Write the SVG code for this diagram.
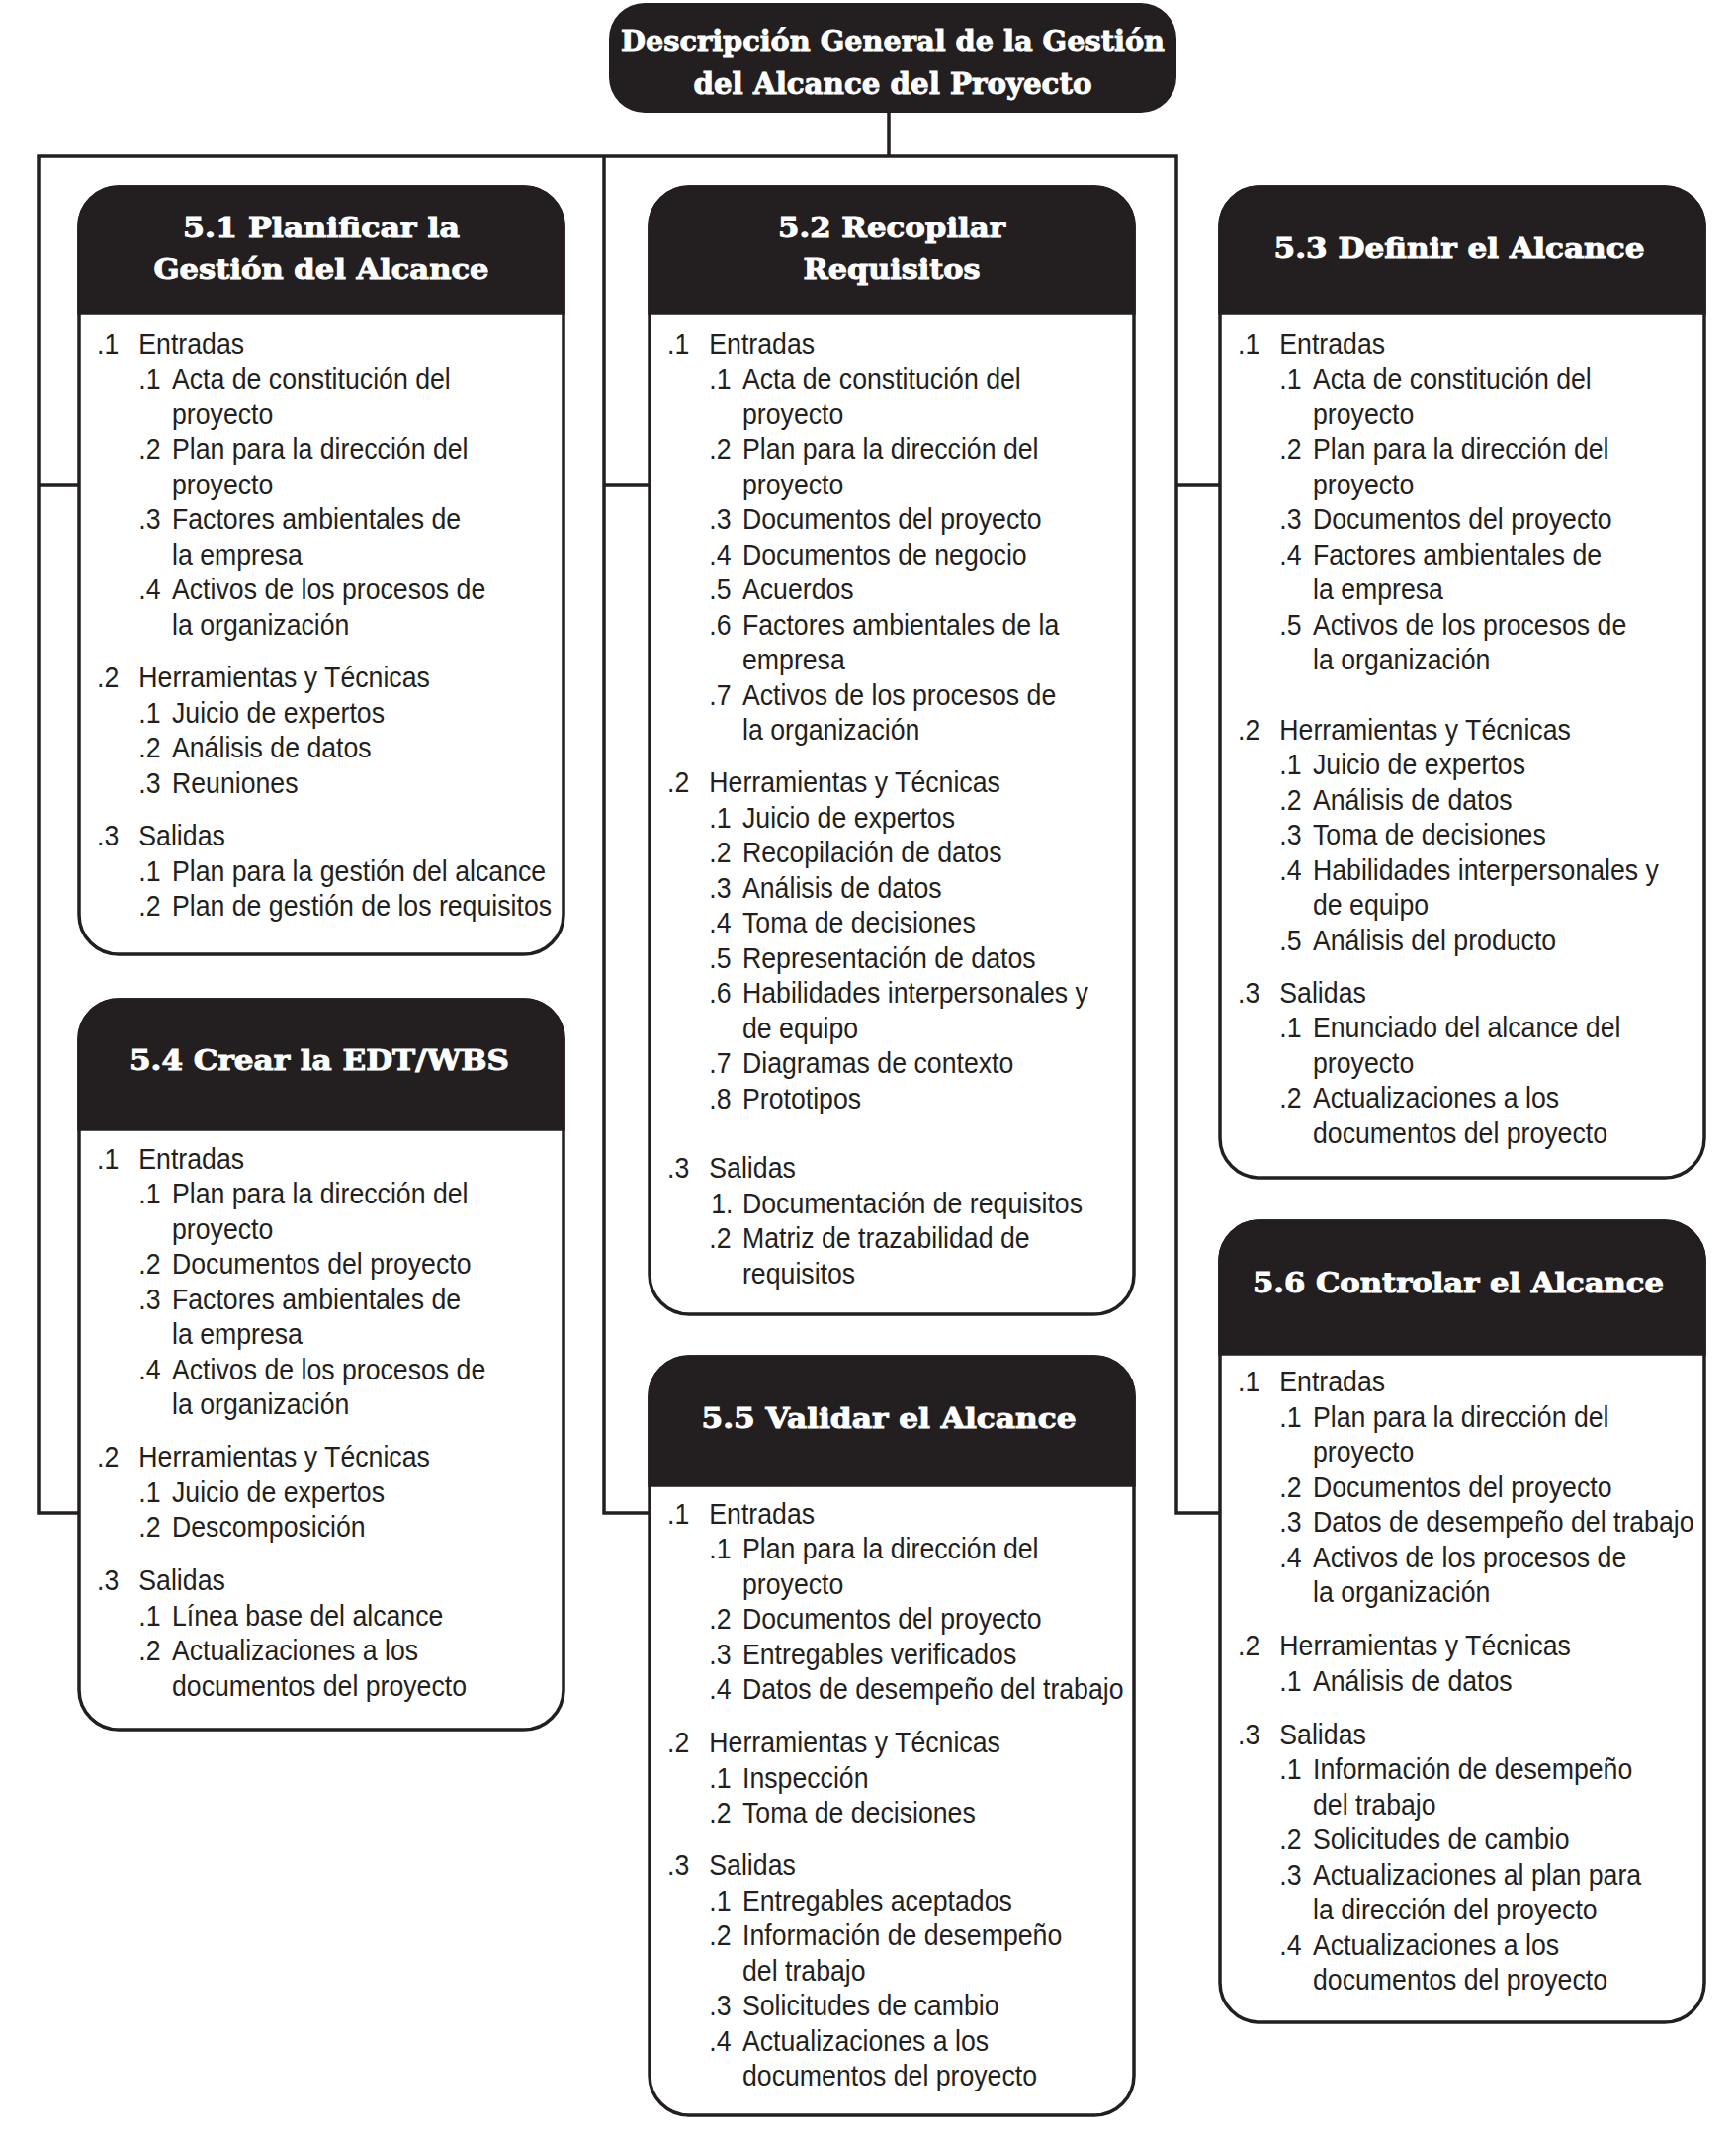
<svg xmlns="http://www.w3.org/2000/svg" width="1756" height="2159" viewBox="0 0 1756 2159">
<style>
.bg{fill:#fff}
.conn{fill:none;stroke:#231f20;stroke-width:3.5;stroke-linejoin:miter}
.box{fill:#fff;stroke:#231f20;stroke-width:3.5}
.hdr{fill:#231f20;stroke:#231f20;stroke-width:3.5}
.ttl{font-family:"DejaVu Serif","Liberation Serif",serif;font-weight:bold;font-size:30px;fill:#fff;stroke:#fff;stroke-width:1;text-anchor:middle}
.h{font-family:"DejaVu Serif","Liberation Serif",serif;font-weight:bold;font-size:28px;fill:#fff;stroke:#fff;stroke-width:1;text-anchor:middle}
.b{font-family:"Liberation Sans",Arial,sans-serif;font-size:29px;fill:#231f20}
</style>
<rect class="bg" x="0" y="0" width="1756" height="2159"/>
<g id="connectors">
<path class="conn" d="M899,114 V158"/>
<path class="conn" d="M80,1530 H39 V158 H1190 V1530 H1234"/>
<path class="conn" d="M611,158 V1530 H657"/>
<path class="conn" d="M39,490 H80 M611,490 H657 M1190,490 H1234"/>
</g>
<g id="n-title">
<rect x="616" y="3" width="574" height="111" rx="36" fill="#231f20"/>
<text class="ttl" x="903" y="52" textLength="550" lengthAdjust="spacingAndGlyphs">Descripción General de la Gestión</text>
<text class="ttl" x="903" y="95" textLength="403" lengthAdjust="spacingAndGlyphs">del Alcance del Proyecto</text>
</g>
<g id="n51">
<rect class="box" x="80" y="189" width="490" height="776" rx="40"/>
<path class="hdr" d="M80,317 V229 A40,40 0 0 1 120,189 H530 A40,40 0 0 1 570,229 V317 Z"/>
<text class="h" x="325" y="240" textLength="280" lengthAdjust="spacingAndGlyphs">5.1 Planificar la</text>
<text class="h" x="325" y="282" textLength="339" lengthAdjust="spacingAndGlyphs">Gestión del Alcance</text>
<g class="b" transform="translate(98 0) scale(0.92 1)">
<text y="358"><tspan x="0">.1</tspan><tspan x="46">Entradas</tspan></text>
<text y="393.5"><tspan x="46">.1</tspan><tspan x="82.6">Acta de constitución del</tspan></text>
<text y="429" x="82.6">proyecto</text>
<text y="464.5"><tspan x="46">.2</tspan><tspan x="82.6">Plan para la dirección del</tspan></text>
<text y="500" x="82.6">proyecto</text>
<text y="535.5"><tspan x="46">.3</tspan><tspan x="82.6">Factores ambientales de</tspan></text>
<text y="571" x="82.6">la empresa</text>
<text y="606.5"><tspan x="46">.4</tspan><tspan x="82.6">Activos de los procesos de</tspan></text>
<text y="642" x="82.6">la organización</text>
<text y="695.5"><tspan x="0">.2</tspan><tspan x="46">Herramientas y Técnicas</tspan></text>
<text y="731"><tspan x="46">.1</tspan><tspan x="82.6">Juicio de expertos</tspan></text>
<text y="766.5"><tspan x="46">.2</tspan><tspan x="82.6">Análisis de datos</tspan></text>
<text y="802"><tspan x="46">.3</tspan><tspan x="82.6">Reuniones</tspan></text>
<text y="855.5"><tspan x="0">.3</tspan><tspan x="46">Salidas</tspan></text>
<text y="891"><tspan x="46">.1</tspan><tspan x="82.6">Plan para la gestión del alcance</tspan></text>
<text y="926.5"><tspan x="46">.2</tspan><tspan x="82.6">Plan de gestión de los requisitos</tspan></text>
</g>
</g>
<g id="n52">
<rect class="box" x="657" y="189" width="490" height="1140" rx="40"/>
<path class="hdr" d="M657,317 V229 A40,40 0 0 1 697,189 H1107 A40,40 0 0 1 1147,229 V317 Z"/>
<text class="h" x="902" y="240" textLength="230" lengthAdjust="spacingAndGlyphs">5.2 Recopilar</text>
<text class="h" x="902" y="282" textLength="179" lengthAdjust="spacingAndGlyphs">Requisitos</text>
<g class="b" transform="translate(675 0) scale(0.92 1)">
<text y="358"><tspan x="0">.1</tspan><tspan x="46">Entradas</tspan></text>
<text y="393.5"><tspan x="46">.1</tspan><tspan x="82.6">Acta de constitución del</tspan></text>
<text y="429" x="82.6">proyecto</text>
<text y="464.5"><tspan x="46">.2</tspan><tspan x="82.6">Plan para la dirección del</tspan></text>
<text y="500" x="82.6">proyecto</text>
<text y="535.5"><tspan x="46">.3</tspan><tspan x="82.6">Documentos del proyecto</tspan></text>
<text y="571"><tspan x="46">.4</tspan><tspan x="82.6">Documentos de negocio</tspan></text>
<text y="606.5"><tspan x="46">.5</tspan><tspan x="82.6">Acuerdos</tspan></text>
<text y="642"><tspan x="46">.6</tspan><tspan x="82.6">Factores ambientales de la</tspan></text>
<text y="677.5" x="82.6">empresa</text>
<text y="713"><tspan x="46">.7</tspan><tspan x="82.6">Activos de los procesos de</tspan></text>
<text y="748.5" x="82.6">la organización</text>
<text y="801.5"><tspan x="0">.2</tspan><tspan x="46">Herramientas y Técnicas</tspan></text>
<text y="837"><tspan x="46">.1</tspan><tspan x="82.6">Juicio de expertos</tspan></text>
<text y="872.5"><tspan x="46">.2</tspan><tspan x="82.6">Recopilación de datos</tspan></text>
<text y="908"><tspan x="46">.3</tspan><tspan x="82.6">Análisis de datos</tspan></text>
<text y="943.5"><tspan x="46">.4</tspan><tspan x="82.6">Toma de decisiones</tspan></text>
<text y="979"><tspan x="46">.5</tspan><tspan x="82.6">Representación de datos</tspan></text>
<text y="1014.5"><tspan x="46">.6</tspan><tspan x="82.6">Habilidades interpersonales y</tspan></text>
<text y="1050" x="82.6">de equipo</text>
<text y="1085.5"><tspan x="46">.7</tspan><tspan x="82.6">Diagramas de contexto</tspan></text>
<text y="1121"><tspan x="46">.8</tspan><tspan x="82.6">Prototipos</tspan></text>
<text y="1191.5"><tspan x="0">.3</tspan><tspan x="46">Salidas</tspan></text>
<text y="1227"><tspan x="48">1.</tspan><tspan x="82.6">Documentación de requisitos</tspan></text>
<text y="1262.5"><tspan x="46">.2</tspan><tspan x="82.6">Matriz de trazabilidad de</tspan></text>
<text y="1298" x="82.6">requisitos</text>
</g>
</g>
<g id="n53">
<rect class="box" x="1234" y="189" width="490" height="1002" rx="40"/>
<path class="hdr" d="M1234,317 V229 A40,40 0 0 1 1274,189 H1684 A40,40 0 0 1 1724,229 V317 Z"/>
<text class="h" x="1476" y="261" textLength="375" lengthAdjust="spacingAndGlyphs">5.3 Definir el Alcance</text>
<g class="b" transform="translate(1252 0) scale(0.92 1)">
<text y="358"><tspan x="0">.1</tspan><tspan x="46">Entradas</tspan></text>
<text y="393.5"><tspan x="46">.1</tspan><tspan x="82.6">Acta de constitución del</tspan></text>
<text y="429" x="82.6">proyecto</text>
<text y="464.5"><tspan x="46">.2</tspan><tspan x="82.6">Plan para la dirección del</tspan></text>
<text y="500" x="82.6">proyecto</text>
<text y="535.5"><tspan x="46">.3</tspan><tspan x="82.6">Documentos del proyecto</tspan></text>
<text y="571"><tspan x="46">.4</tspan><tspan x="82.6">Factores ambientales de</tspan></text>
<text y="606.5" x="82.6">la empresa</text>
<text y="642"><tspan x="46">.5</tspan><tspan x="82.6">Activos de los procesos de</tspan></text>
<text y="677.5" x="82.6">la organización</text>
<text y="748"><tspan x="0">.2</tspan><tspan x="46">Herramientas y Técnicas</tspan></text>
<text y="783.5"><tspan x="46">.1</tspan><tspan x="82.6">Juicio de expertos</tspan></text>
<text y="819"><tspan x="46">.2</tspan><tspan x="82.6">Análisis de datos</tspan></text>
<text y="854.5"><tspan x="46">.3</tspan><tspan x="82.6">Toma de decisiones</tspan></text>
<text y="890"><tspan x="46">.4</tspan><tspan x="82.6">Habilidades interpersonales y</tspan></text>
<text y="925.5" x="82.6">de equipo</text>
<text y="961"><tspan x="46">.5</tspan><tspan x="82.6">Análisis del producto</tspan></text>
<text y="1014"><tspan x="0">.3</tspan><tspan x="46">Salidas</tspan></text>
<text y="1049.5"><tspan x="46">.1</tspan><tspan x="82.6">Enunciado del alcance del</tspan></text>
<text y="1085" x="82.6">proyecto</text>
<text y="1120.5"><tspan x="46">.2</tspan><tspan x="82.6">Actualizaciones a los</tspan></text>
<text y="1156" x="82.6">documentos del proyecto</text>
</g>
</g>
<g id="n54">
<rect class="box" x="80" y="1011" width="490" height="738" rx="40"/>
<path class="hdr" d="M80,1142 V1051 A40,40 0 0 1 120,1011 H530 A40,40 0 0 1 570,1051 V1142 Z"/>
<text class="h" x="323" y="1082" textLength="384" lengthAdjust="spacingAndGlyphs">5.4 Crear la EDT/WBS</text>
<g class="b" transform="translate(98 0) scale(0.92 1)">
<text y="1182"><tspan x="0">.1</tspan><tspan x="46">Entradas</tspan></text>
<text y="1217.5"><tspan x="46">.1</tspan><tspan x="82.6">Plan para la dirección del</tspan></text>
<text y="1253" x="82.6">proyecto</text>
<text y="1288.5"><tspan x="46">.2</tspan><tspan x="82.6">Documentos del proyecto</tspan></text>
<text y="1324"><tspan x="46">.3</tspan><tspan x="82.6">Factores ambientales de</tspan></text>
<text y="1359.5" x="82.6">la empresa</text>
<text y="1395"><tspan x="46">.4</tspan><tspan x="82.6">Activos de los procesos de</tspan></text>
<text y="1430.5" x="82.6">la organización</text>
<text y="1483.5"><tspan x="0">.2</tspan><tspan x="46">Herramientas y Técnicas</tspan></text>
<text y="1519"><tspan x="46">.1</tspan><tspan x="82.6">Juicio de expertos</tspan></text>
<text y="1554.5"><tspan x="46">.2</tspan><tspan x="82.6">Descomposición</tspan></text>
<text y="1608.5"><tspan x="0">.3</tspan><tspan x="46">Salidas</tspan></text>
<text y="1644"><tspan x="46">.1</tspan><tspan x="82.6">Línea base del alcance</tspan></text>
<text y="1679.5"><tspan x="46">.2</tspan><tspan x="82.6">Actualizaciones a los</tspan></text>
<text y="1715" x="82.6">documentos del proyecto</text>
</g>
</g>
<g id="n55">
<rect class="box" x="657" y="1372" width="490" height="767" rx="40"/>
<path class="hdr" d="M657,1502 V1412 A40,40 0 0 1 697,1372 H1107 A40,40 0 0 1 1147,1412 V1502 Z"/>
<text class="h" x="899" y="1444" textLength="379" lengthAdjust="spacingAndGlyphs">5.5 Validar el Alcance</text>
<g class="b" transform="translate(675 0) scale(0.92 1)">
<text y="1541"><tspan x="0">.1</tspan><tspan x="46">Entradas</tspan></text>
<text y="1576.5"><tspan x="46">.1</tspan><tspan x="82.6">Plan para la dirección del</tspan></text>
<text y="1612" x="82.6">proyecto</text>
<text y="1647.5"><tspan x="46">.2</tspan><tspan x="82.6">Documentos del proyecto</tspan></text>
<text y="1683"><tspan x="46">.3</tspan><tspan x="82.6">Entregables verificados</tspan></text>
<text y="1718.5"><tspan x="46">.4</tspan><tspan x="82.6">Datos de desempeño del trabajo</tspan></text>
<text y="1772.5"><tspan x="0">.2</tspan><tspan x="46">Herramientas y Técnicas</tspan></text>
<text y="1808"><tspan x="46">.1</tspan><tspan x="82.6">Inspección</tspan></text>
<text y="1843.5"><tspan x="46">.2</tspan><tspan x="82.6">Toma de decisiones</tspan></text>
<text y="1896.5"><tspan x="0">.3</tspan><tspan x="46">Salidas</tspan></text>
<text y="1932"><tspan x="46">.1</tspan><tspan x="82.6">Entregables aceptados</tspan></text>
<text y="1967.5"><tspan x="46">.2</tspan><tspan x="82.6">Información de desempeño</tspan></text>
<text y="2003" x="82.6">del trabajo</text>
<text y="2038.5"><tspan x="46">.3</tspan><tspan x="82.6">Solicitudes de cambio</tspan></text>
<text y="2074"><tspan x="46">.4</tspan><tspan x="82.6">Actualizaciones a los</tspan></text>
<text y="2109.5" x="82.6">documentos del proyecto</text>
</g>
</g>
<g id="n56">
<rect class="box" x="1234" y="1235" width="490" height="810" rx="40"/>
<path class="hdr" d="M1234,1369 V1275 A40,40 0 0 1 1274,1235 H1684 A40,40 0 0 1 1724,1275 V1369 Z"/>
<text class="h" x="1475" y="1307" textLength="416" lengthAdjust="spacingAndGlyphs">5.6 Controlar el Alcance</text>
<g class="b" transform="translate(1252 0) scale(0.92 1)">
<text y="1407.5"><tspan x="0">.1</tspan><tspan x="46">Entradas</tspan></text>
<text y="1443"><tspan x="46">.1</tspan><tspan x="82.6">Plan para la dirección del</tspan></text>
<text y="1478.5" x="82.6">proyecto</text>
<text y="1514"><tspan x="46">.2</tspan><tspan x="82.6">Documentos del proyecto</tspan></text>
<text y="1549.5"><tspan x="46">.3</tspan><tspan x="82.6">Datos de desempeño del trabajo</tspan></text>
<text y="1585"><tspan x="46">.4</tspan><tspan x="82.6">Activos de los procesos de</tspan></text>
<text y="1620.5" x="82.6">la organización</text>
<text y="1674.5"><tspan x="0">.2</tspan><tspan x="46">Herramientas y Técnicas</tspan></text>
<text y="1710"><tspan x="46">.1</tspan><tspan x="82.6">Análisis de datos</tspan></text>
<text y="1764"><tspan x="0">.3</tspan><tspan x="46">Salidas</tspan></text>
<text y="1799.5"><tspan x="46">.1</tspan><tspan x="82.6">Información de desempeño</tspan></text>
<text y="1835" x="82.6">del trabajo</text>
<text y="1870.5"><tspan x="46">.2</tspan><tspan x="82.6">Solicitudes de cambio</tspan></text>
<text y="1906"><tspan x="46">.3</tspan><tspan x="82.6">Actualizaciones al plan para</tspan></text>
<text y="1941.5" x="82.6">la dirección del proyecto</text>
<text y="1977"><tspan x="46">.4</tspan><tspan x="82.6">Actualizaciones a los</tspan></text>
<text y="2012.5" x="82.6">documentos del proyecto</text>
</g>
</g>
</svg>
